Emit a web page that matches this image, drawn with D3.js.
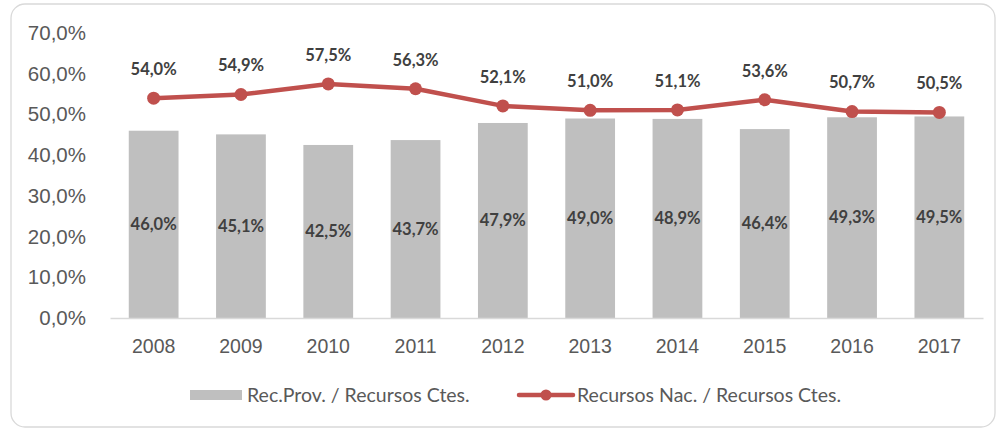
<!DOCTYPE html>
<html lang="es">
<head>
<meta charset="UTF-8">
<title>Recursos</title>
<style>
  body { margin: 0; background: #fff; font-family: Lato, "Open Sans", sans-serif; }
  svg { display: block; }
  .tick text { fill: #595959; }
</style>
</head>
<body>
<svg id="chart" width="1000" height="429"></svg>
<script src="https://d3js.org/d3.v7.min.js"></script>
<script>
  // data
  var years = ['2008', '2009', '2010', '2011', '2012', '2013', '2014', '2015', '2016', '2017'];
  var recProv = [46.0, 45.1, 42.5, 43.7, 47.9, 49.0, 48.9, 46.4, 49.3, 49.5];
  var recNac = [54.0, 54.9, 57.5, 56.3, 52.1, 51.0, 51.1, 53.6, 50.7, 50.5];
  var yTicks = [0, 10, 20, 30, 40, 50, 60, 70];
  var seriesNames = ['Rec.Prov. / Recursos Ctes.', 'Recursos Nac. / Recursos Ctes.'];

  var barColor = '#bfbfbf';
  var lineColor = '#c0504d';
  var fmt = function(v) { return v.toFixed(1).replace('.', ',') + '%'; };

  var svg = d3.select('#chart');

  // outer frame of the chart
  svg.append('rect')
    .attr('x', 11).attr('y', 4)
    .attr('width', 984).attr('height', 423)
    .attr('rx', 14)
    .attr('fill', '#fff')
    .attr('stroke', '#d9d9d9')
    .attr('stroke-width', 1.3);

  var x = d3.scaleBand().domain(years).range([110, 983]).paddingInner(0.43).paddingOuter(0.215);
  var y = d3.scaleLinear().domain([0, 70]).range([318, 33]);

  // y axis
  var yAxis = svg.append('g')
    .attr('transform', 'translate(90,0)')
    .call(d3.axisLeft(y).tickValues(yTicks).tickSize(0).tickPadding(4).tickFormat(fmt));
  yAxis.select('.domain').remove();
  yAxis.selectAll('text').style('font-size', '20.5px');

  // bars
  svg.selectAll('rect.bar')
    .data(recProv)
    .enter().append('rect')
    .attr('class', 'bar')
    .attr('x', function(d, i) { return x(years[i]); })
    .attr('y', function(d) { return y(d); })
    .attr('width', x.bandwidth())
    .attr('height', function(d) { return y(0) - y(d); })
    .attr('fill', barColor);

  // x axis
  var xAxis = svg.append('g')
    .attr('transform', 'translate(0,' + y(0) + ')')
    .call(d3.axisBottom(x).tickSize(0).tickPadding(21));
  xAxis.select('.domain').attr('stroke', '#d9d9d9').attr('stroke-width', 1.5);
  xAxis.selectAll('text').style('font-size', '19.5px');

  // bar labels
  svg.selectAll('text.barlab')
    .data(recProv)
    .enter().append('text')
    .attr('class', 'barlab')
    .attr('x', function(d, i) { return x(years[i]) + x.bandwidth() / 2; })
    .attr('y', function(d) { return (y(d) + y(0)) / 2; })
    .attr('dy', '0.35em')
    .attr('text-anchor', 'middle')
    .attr('fill', '#404040')
    .style('font-size', '16.5px')
    .style('font-weight', 'bold')
    .text(fmt);

  // line
  var cx = function(i) { return x(years[i]) + x.bandwidth() / 2; };
  var line = d3.line()
    .x(function(d, i) { return cx(i); })
    .y(function(d) { return y(d); });

  svg.append('path')
    .datum(recNac)
    .attr('d', line)
    .attr('fill', 'none')
    .attr('stroke', lineColor)
    .attr('stroke-width', 4.5)
    .attr('stroke-linejoin', 'round');

  svg.selectAll('circle.pt')
    .data(recNac)
    .enter().append('circle')
    .attr('class', 'pt')
    .attr('cx', function(d, i) { return cx(i); })
    .attr('cy', function(d) { return y(d); })
    .attr('r', 6.5)
    .attr('fill', lineColor);

  svg.selectAll('text.linelab')
    .data(recNac)
    .enter().append('text')
    .attr('class', 'linelab')
    .attr('x', function(d, i) { return cx(i); })
    .attr('y', function(d) { return y(d) - 29; })
    .attr('dy', '0.35em')
    .attr('text-anchor', 'middle')
    .attr('fill', '#404040')
    .style('font-size', '16.5px')
    .style('font-weight', 'bold')
    .text(fmt);

  // legend
  var leg = svg.append('g').attr('transform', 'translate(0,395)');
  leg.append('rect')
    .attr('x', 190).attr('y', -5).attr('width', 52).attr('height', 10)
    .attr('fill', barColor);
  leg.append('text')
    .attr('x', 247).attr('y', 0).attr('dy', '0.35em')
    .attr('fill', '#595959').style('font-size', '19.5px')
    .text(seriesNames[0]);
  leg.append('line')
    .attr('x1', 519).attr('x2', 573).attr('y1', 0).attr('y2', 0)
    .attr('stroke', lineColor).attr('stroke-width', 4.5).attr('stroke-linecap', 'round');
  leg.append('circle')
    .attr('cx', 546).attr('cy', 0).attr('r', 5.5).attr('fill', lineColor);
  leg.append('text')
    .attr('x', 577).attr('y', 0).attr('dy', '0.35em')
    .attr('fill', '#595959').style('font-size', '19.5px')
    .text(seriesNames[1]);
</script>
</body>
</html>
